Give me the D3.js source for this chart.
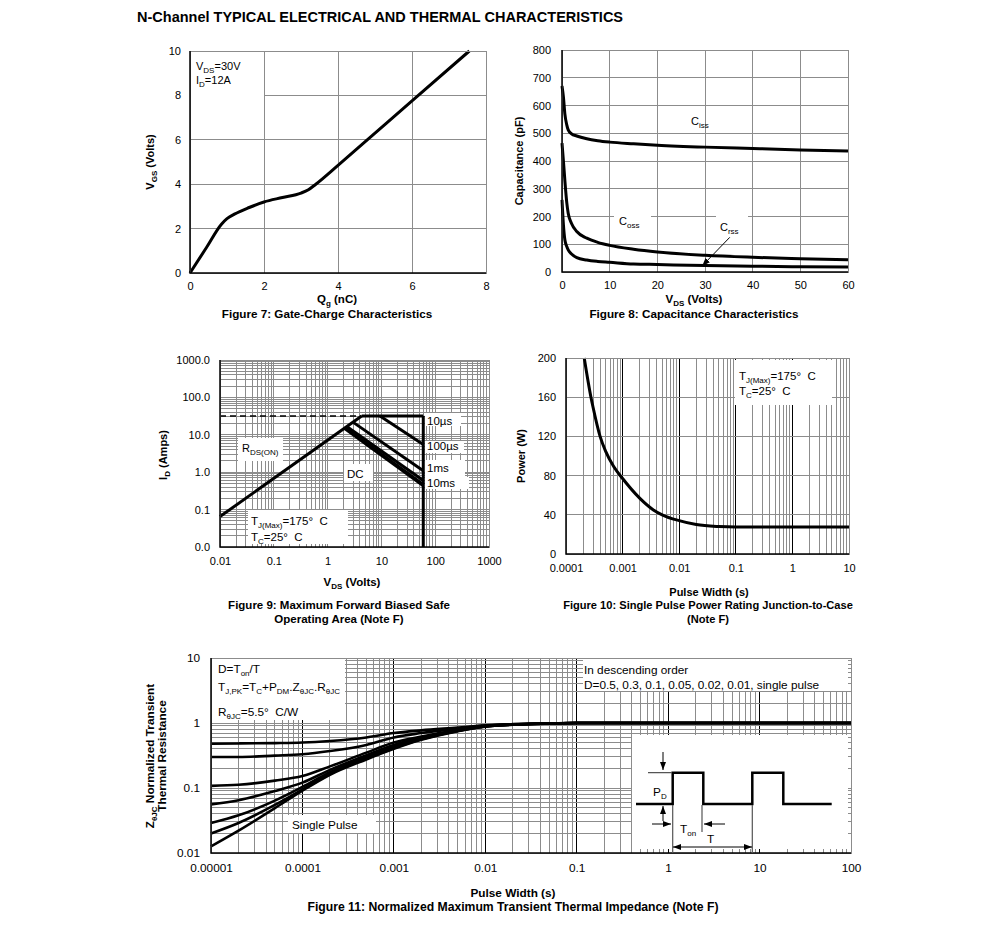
<!DOCTYPE html>
<html>
<head>
<meta charset="utf-8">
<script src="https://cdn.jsdelivr.net/npm/d3@7"></script>
<style>
  body { margin: 0; background: #fff; }
  svg text { font-family: "Liberation Sans", Arial, Helvetica, sans-serif; fill: #000; }
</style>
</head>
<body>
<svg id="chart" width="991" height="938"></svg>
<script>
// ---- Figure 7: gate charge ----
const qg  = [0, 0.45, 0.85, 1.0, 1.2, 1.6, 2.0, 2.5, 3.0, 3.2, 3.4, 4.0, 5.0, 6.0, 7.55];
const vgs = [0, 1.16, 2.2, 2.45, 2.65, 2.95, 3.2, 3.4, 3.6, 3.75, 4.0, 4.85, 6.3, 7.75, 10];

// ---- Figure 8: capacitance ----
const vdsCap = [0, 0.3, 0.6, 1, 1.3, 2, 3.1, 5.2, 7.5, 10, 15, 20, 30, 40, 50, 60];
const ciss = [670, 630, 570, 530, 512, 498, 490, 480, 473, 468, 462, 457, 450, 445, 440, 436];
const coss = [464, 400, 330, 250, 212, 175, 146, 122, 107, 96, 82, 72, 60, 53, 48, 44];
const crss = [260, 170, 116, 92, 80, 65, 52, 43, 38, 35, 29, 27, 23, 21, 19, 18];

// ---- Figure 9: safe operating area (V, A) ----
const rdsV = [0.01, 4.3],  rdsI = [0.065, 32];
const limV = [0.01, 4.3],  limI = [32, 32];      // dashed current limit
const topV = [4.3, 60],    topI = [32, 32];      // 10us
const us100V = [9.4, 60],  us100I = [32, 5.5];
const ms1V = [3.0, 60],    ms1I = [21.5, 1.1];
const ms10V = [2.3, 60],   ms10I = [16.5, 0.6];
const dcV = [2.1, 60],     dcI = [15, 0.45];
const vmaxV = [60, 60],    vmaxI = [32, 0.01];
const soaLabels = ["10\u00b5s", "100\u00b5s", "1ms", "10ms"];

// ---- Figure 10: single pulse power ----
const pwT = [2.1e-4, 2.76e-4, 3e-4, 4e-4, 5e-4, 7e-4, 1e-3, 2e-3, 3.5e-3, 5e-3, 1e-2, 2e-2, 5e-2, 0.1, 1, 10];
const pwP = [200, 160, 150, 120, 105, 89, 77, 57, 45, 40, 34, 30, 28, 27.5, 27.5, 27.5];

// ---- Figure 11: transient thermal impedance ----
const zT = [1e-5, 2e-5, 5e-5, 1e-4, 2e-4, 5e-4, 1e-3, 2e-3, 5e-3, 1e-2, 2e-2, 5e-2, 0.1, 1, 10, 100];
const zD050 = [0.48, 0.485, 0.49, 0.50, 0.53, 0.60, 0.70, 0.77, 0.85, 0.92, 0.96, 0.99, 1, 1, 1, 1];
const zD030 = [0.30, 0.30, 0.315, 0.33, 0.37, 0.46, 0.60, 0.70, 0.82, 0.91, 0.955, 0.99, 1, 1, 1, 1];
const zD010 = [0.108, 0.112, 0.13, 0.153, 0.215, 0.35, 0.50, 0.62, 0.78, 0.90, 0.95, 0.985, 1, 1, 1, 1];
const zD005 = [0.056, 0.065, 0.09, 0.121, 0.19, 0.32, 0.46, 0.59, 0.77, 0.89, 0.95, 0.985, 1, 1, 1, 1];
const zD002 = [0.029, 0.038, 0.064, 0.104, 0.175, 0.30, 0.43, 0.57, 0.76, 0.89, 0.945, 0.98, 1, 1, 1, 1];
const zD001 = [0.020, 0.029, 0.055, 0.095, 0.165, 0.285, 0.41, 0.56, 0.755, 0.885, 0.94, 0.98, 1, 1, 1, 1];
const zSingle = [0.0126, 0.022, 0.049, 0.091, 0.16, 0.275, 0.40, 0.55, 0.75, 0.88, 0.94, 0.98, 1, 1, 1, 1];

// tick labels
const f9XTicks = ["0.01", "0.1", "1", "10", "100", "1000"];
const f9YTicks = ["1000.0", "100.0", "10.0", "1.0", "0.1", "0.0"];
const f9YVals = [1000, 100, 10, 1, 0.1, 0.01];
const f10XTicks = ["0.0001", "0.001", "0.01", "0.1", "1", "10"];
const f11XTicks = ["0.00001", "0.0001", "0.001", "0.01", "0.1", "1", "10", "100"];
const f11YTicks = ["10", "1", "0.1", "0.01"];

const svg = d3.select("#chart");
const FONT = '"Liberation Sans", Arial, Helvetica, sans-serif';
const GRID = "#8c8c8c";

// defs: arrow heads
const defs = svg.append("defs");
defs.append("marker").attr("id", "arr").attr("viewBox", "0 0 8 6")
  .attr("refX", 8).attr("refY", 3).attr("markerWidth", 8).attr("markerHeight", 6)
  .attr("markerUnits", "userSpaceOnUse").attr("orient", "auto-start-reverse")
  .append("path").attr("d", "M0,0L8,3L0,6Z").attr("fill", "#000");

// text with subscripts: parts = [[text, isSub], ...]
function rich(t, parts) {
  let down = false;
  parts.forEach(([s, sub]) => {
    const ts = t.append("tspan").text(s);
    if (sub) {
      ts.attr("font-size", "8px");
      if (!down) { ts.attr("dy", 3); down = true; }
    } else if (down) { ts.attr("dy", -3); down = false; }
  });
  return t;
}

function label(x, y, parts, opt = {}) {
  const t = svg.append("text").attr("x", x).attr("y", y)
    .attr("font-size", opt.size || 11)
    .attr("text-anchor", opt.anchor || "start")
    .attr("font-weight", opt.bold ? "bold" : null);
  if (opt.rotate) t.attr("transform", `rotate(-90,${x},${y})`);
  rich(t, typeof parts === "string" ? [[parts, false]] : parts);
  return t;
}

function whiteBox(x, y, w, h) {
  svg.append("rect").attr("x", x).attr("y", y).attr("width", w).attr("height", h).attr("fill", "#fff");
}

function logVals(lo, hi) {
  const out = [];
  for (let e = lo; e < hi; e++)
    for (let k = 1; k <= 9; k++) out.push({ v: k * Math.pow(10, e), major: k === 1 });
  out.push({ v: Math.pow(10, hi), major: true });
  return out;
}

function grid(b, sx, xs, sy, ys, xMajor, yMajor) {
  const g = svg.append("g").attr("shape-rendering", "crispEdges").attr("stroke-width", 1);
  g.selectAll(".v").data(xs).join("line").attr("class", "v")
    .attr("x1", d => sx(d.v)).attr("x2", d => sx(d.v)).attr("y1", b.t).attr("y2", b.b)
    .attr("stroke", d => d.major ? xMajor : GRID);
  g.selectAll(".h").data(ys).join("line").attr("class", "h")
    .attr("x1", b.l).attr("x2", b.r).attr("y1", d => sy(d.v)).attr("y2", d => sy(d.v))
    .attr("stroke", d => d.major ? yMajor : GRID);
}

function border(b) {
  svg.append("rect").attr("x", b.l).attr("y", b.t).attr("width", b.r - b.l).attr("height", b.b - b.t)
    .attr("fill", "none").attr("stroke", GRID).attr("shape-rendering", "crispEdges");
  svg.append("path").attr("d", `M${b.l},${b.t}V${b.b}H${b.r}`)
    .attr("fill", "none").attr("stroke", "#000").attr("stroke-width", 1.5);
}

function axes(b, sx, xv, xf, sy, yv, yf, padX, padY, fs) {
  const gx = svg.append("g").attr("transform", `translate(0,${b.b})`)
    .call(d3.axisBottom(sx).tickValues(xv).tickFormat(xf).tickSize(0).tickPadding(padX));
  const gy = svg.append("g").attr("transform", `translate(${b.l},0)`)
    .call(d3.axisLeft(sy).tickValues(yv).tickFormat(yf).tickSize(0).tickPadding(padY));
  [gx, gy].forEach(g => {
    g.select(".domain").remove();
    g.attr("font-size", fs || 11).attr("font-family", FONT);
  });
}

function curve(sx, sy, xs, ys, w, c) {
  svg.append("path").datum(xs.map((x, i) => [x, ys[i]]))
    .attr("d", d3.line().x(d => sx(d[0])).y(d => sy(d[1])).curve(c || d3.curveLinear))
    .attr("fill", "none").attr("stroke", "#000").attr("stroke-width", w)
    .attr("stroke-linejoin", "round");
}

// title
label(137, 22, "N-Channel TYPICAL ELECTRICAL AND THERMAL CHARACTERISTICS", { bold: true, size: 14.5 });

// ================= Figure 7 =================
{
  const b = { l: 190, r: 486, t: 51, b: 273 };
  const x = d3.scaleLinear().domain([0, 8]).range([b.l, b.r]);
  const y = d3.scaleLinear().domain([0, 10]).range([b.b, b.t]);
  grid(b, x, [2, 4, 6].map(v => ({ v })), y, [2, 4, 6, 8].map(v => ({ v })), GRID, GRID);
  whiteBox(b.l + 1, b.t + 1, 73, 45);
  curve(x, y, qg, vgs, 3, d3.curveMonotoneX);
  border(b);
  axes(b, x, d3.range(0, 9, 2), d3.format("d"), y, d3.range(0, 11, 2), d3.format("d"), 9, 9);
  label(196, 70, [["V", 0], ["DS", 1], ["=30V", 0]]);
  label(196, 84, [["I", 0], ["D", 1], ["=12A", 0]]);
  label(154, 162, [["V", 0], ["GS", 1], [" (Volts)", 0]], { bold: true, rotate: true, anchor: "middle" });
  label(337, 303, [["Q", 0], ["g", 1], [" (nC)", 0]], { bold: true, anchor: "middle", size: 11.5 });
  label(327, 318, "Figure 7: Gate-Charge Characteristics", { bold: true, anchor: "middle", size: 11.7 });
}

// ================= Figure 8 =================
{
  const b = { l: 562, r: 848, t: 50, b: 272 };
  const x = d3.scaleLinear().domain([0, 60]).range([b.l, b.r]);
  const y = d3.scaleLinear().domain([0, 800]).range([b.b, b.t]);
  grid(b, x, d3.range(10, 60, 10).map(v => ({ v })), y, d3.range(100, 800, 100).map(v => ({ v })), GRID, GRID);
  whiteBox(614, 214, 37, 17);
  whiteBox(716, 215, 32, 25);
  curve(x, y, vdsCap, ciss, 3, d3.curveMonotoneX);
  curve(x, y, vdsCap, coss, 3, d3.curveMonotoneX);
  curve(x, y, vdsCap, crss, 3, d3.curveMonotoneX);
  border(b);
  axes(b, x, d3.range(0, 61, 10), d3.format("d"), y, d3.range(0, 801, 100), d3.format("d"), 9, 11);
  label(691, 125, [["C", 0], ["iss", 1]]);
  label(619, 225, [["C", 0], ["oss", 1]]);
  label(720, 231, [["C", 0], ["rss", 1]]);
  svg.append("line").attr("x1", x(35.2)).attr("y1", y(125)).attr("x2", x(29.4)).attr("y2", y(22))
    .attr("stroke", "#000").attr("stroke-width", 1).attr("marker-end", "url(#arr)");
  label(523, 161, "Capacitance (pF)", { bold: true, rotate: true, anchor: "middle" });
  label(694, 303, [["V", 0], ["DS", 1], [" (Volts)", 0]], { bold: true, anchor: "middle", size: 11.5 });
  label(694, 318, "Figure 8: Capacitance Characteristics", { bold: true, anchor: "middle", size: 11.7 });
}

// ================= Figure 9 =================
{
  const b = { l: 220, r: 489, t: 360, b: 547 };
  const x = d3.scaleLog().domain([0.01, 1000]).range([b.l, b.r]);
  const y = d3.scaleLog().domain([0.01, 1000]).range([b.b, b.t]);
  grid(b, x, logVals(-2, 3), y, logVals(-2, 3), GRID, GRID);
  whiteBox(238, 438, 45, 23);
  whiteBox(344, 464, 29, 17);
  whiteBox(248, 510, 100, 34);
  whiteBox(425, 413, 36, 13);
  whiteBox(425, 441, 39, 12);
  whiteBox(425, 460, 40, 17);
  whiteBox(425, 477, 44, 12);
  svg.append("path").datum(limV.map((v, i) => [v, limI[i]]))
    .attr("d", d3.line().x(d => x(d[0])).y(d => y(d[1])))
    .attr("stroke", "#000").attr("stroke-width", 1.5).attr("stroke-dasharray", "6,4").attr("fill", "none");
  curve(x, y, rdsV, rdsI, 3);
  curve(x, y, topV, topI, 3);
  curve(x, y, us100V, us100I, 3);
  curve(x, y, ms1V, ms1I, 3);
  curve(x, y, ms10V, ms10I, 3);
  curve(x, y, dcV, dcI, 4);
  curve(x, y, vmaxV, vmaxI, 3);
  border(b);
  axes(b, x, f9XTicks.map(Number), (d, i) => f9XTicks[i], y, f9YVals, (d, i) => f9YTicks[i], 10, 10);
  const ly = [425, 450, 472, 487];
  soaLabels.forEach((s, i) => label(427, ly[i], s, { size: 11.5 }));
  label(242, 452, [["R", 0], ["DS(ON)", 1]]);
  label(347, 478, "DC", { size: 11.5 });
  label(251, 525, [["T", 0], ["J(Max)", 1], ["=175\u00b0\u00a0 C", 0]], { size: 11.5 });
  label(251, 541, [["T", 0], ["C", 1], ["=25\u00b0\u00a0 C", 0]], { size: 11.5 });
  label(167, 455, [["I", 0], ["D", 1], [" (Amps)", 0]], { bold: true, rotate: true, anchor: "middle" });
  label(352, 586, [["V", 0], ["DS", 1], [" (Volts)", 0]], { bold: true, anchor: "middle", size: 11.5 });
  label(339, 609, "Figure 9: Maximum Forward Biased Safe", { bold: true, anchor: "middle", size: 11.5 });
  label(339, 623, "Operating Area (Note F)", { bold: true, anchor: "middle", size: 11.5 });
}

// ================= Figure 10 =================
{
  const b = { l: 566, r: 849, t: 358, b: 554 };
  const x = d3.scaleLog().domain([1e-4, 10]).range([b.l, b.r]);
  const y = d3.scaleLinear().domain([0, 200]).range([b.b, b.t]);
  grid(b, x, logVals(-4, 1), y, [40, 80, 120, 160].map(v => ({ v })), "#000", GRID);
  whiteBox(735, 360, 97, 45);
  curve(x, y, pwT, pwP, 3, d3.curveMonotoneX);
  border(b);
  axes(b, x, f10XTicks.map(Number), (d, i) => f10XTicks[i], y, d3.range(0, 201, 40), d3.format("d"), 10, 10);
  label(739, 380, [["T", 0], ["J(Max)", 1], ["=175\u00b0\u00a0 C", 0]], { size: 11.5 });
  label(739, 395, [["T", 0], ["C", 1], ["=25\u00b0\u00a0 C", 0]], { size: 11.5 });
  label(525, 456, "Power (W)", { bold: true, rotate: true, anchor: "middle" });
  label(709, 596, "Pulse Width (s)", { bold: true, anchor: "middle" });
  label(708, 609, "Figure 10: Single Pulse Power Rating Junction-to-Case", { bold: true, anchor: "middle", size: 11.1 });
  label(708, 623, "(Note F)", { bold: true, anchor: "middle", size: 11.1 });
}

// ================= Figure 11 =================
{
  const FS = 11.8;
  const b = { l: 211, r: 851, t: 658, b: 853 };
  const x = d3.scaleLog().domain([1e-5, 100]).range([b.l, b.r]);
  const y = d3.scaleLog().domain([0.01, 10]).range([b.b, b.t]);
  grid(b, x, logVals(-5, 2), y, logVals(-2, 1), "#000", GRID);
  whiteBox(212, 659, 133, 61);
  whiteBox(583, 659, 265, 32);
  whiteBox(288, 815, 88, 18);
  whiteBox(632, 735, 216, 114);
  [zD050, zD030, zD010, zD005, zD002, zD001, zSingle].forEach(s => curve(x, y, zT, s, 2.6, d3.curveMonotoneX));
  border(b);
  axes(b, x, f11XTicks.map(Number), (d, i) => f11XTicks[i], y, f11YTicks.map(Number), (d, i) => f11YTicks[i], 11, 11, FS);

  label(218, 673, [["D=T", 0], ["on", 1], ["/T", 0]], { size: FS });
  label(218, 691, [["T", 0], ["J,PK", 1], ["=T", 0], ["C", 1], ["+P", 0], ["DM", 1], [".Z", 0], ["\u03b8JC", 1], [".R", 0], ["\u03b8JC", 1]], { size: FS });
  label(218, 716, [["R", 0], ["\u03b8JC", 1], ["=5.5\u00b0\u00a0 C/W", 0]], { size: FS });
  label(584, 674, "In descending order", { size: FS });
  label(584, 689, "D=0.5, 0.3, 0.1, 0.05, 0.02, 0.01, single pulse", { size: FS });
  label(292, 829, "Single Pulse", { size: FS });

  // pulse train sketch inside the inset
  const ins = svg.append("g").attr("transform", "translate(632,735)");
  ins.append("path").attr("d", "M4,69H40.7V37.7H71.3V69H120.3V37.7H151.3V69H199.7")
    .attr("fill", "none").attr("stroke", "#000").attr("stroke-width", 2.5);
  ins.append("path").attr("d", "M16,37.7H40 M40.7,70V118 M70,70V97 M120.3,70V118")
    .attr("fill", "none").attr("stroke", "#555").attr("stroke-width", 1.2);
  const arrows = [[31, 17, 31, 35], [31, 86, 31, 71], [20, 89, 39, 89], [93, 89, 72, 89]];
  arrows.forEach(a => ins.append("line").attr("x1", a[0]).attr("y1", a[1]).attr("x2", a[2]).attr("y2", a[3])
    .attr("stroke", "#000").attr("stroke-width", 1).attr("marker-end", "url(#arr)"));
  ins.append("line").attr("x1", 41).attr("y1", 112).attr("x2", 120).attr("y2", 112)
    .attr("stroke", "#000").attr("stroke-width", 1)
    .attr("marker-start", "url(#arr)").attr("marker-end", "url(#arr)");
  const it = ins.append("text").attr("x", 21).attr("y", 61).attr("font-size", FS);
  rich(it, [["P", 0], ["D", 1]]);
  const it2 = ins.append("text").attr("x", 48).attr("y", 98).attr("font-size", FS);
  rich(it2, [["T", 0], ["on", 1]]);
  ins.append("text").attr("x", 75).attr("y", 108).attr("font-size", FS).text("T");

  label(154, 756, [["Z", 0], ["\u03b8JC", 1], [" Normalized Transient", 0]], { bold: true, rotate: true, anchor: "middle", size: FS });
  label(166, 756, "Thermal Resistance", { bold: true, rotate: true, anchor: "middle", size: FS });
  label(513, 897, "Pulse Width (s)", { bold: true, anchor: "middle", size: FS });
  label(513, 911, "Figure 11: Normalized Maximum Transient Thermal Impedance (Note F)", { bold: true, anchor: "middle", size: 12.2 });
}
</script>
</body>
</html>
